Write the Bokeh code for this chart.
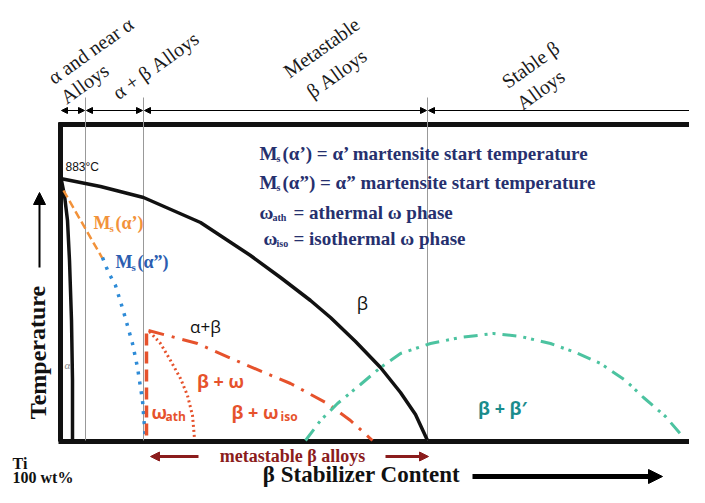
from bokeh.plotting import figure
from bokeh.models import Range1d, Arrow, NormalHead
from bokeh.core.properties import value
from bokeh.embed import file_html
from bokeh.resources import INLINE

# ---- data (schematic coordinates) ----
section_edges = [60, 85, 143, 427, 705]
section_labels = ["α and near α", "Alloys", "α + β Alloys", "Metastable", "β Alloys", "Stable β", "Alloys"]
section_label_x = [90, 84, 155, 321, 336, 530, 540]
section_label_y = [50, 83, 65, 47, 73, 64, 89]

beta_transus_x = [60, 100, 143, 200, 250, 280, 310, 330, 355, 380, 400, 415, 427]
beta_transus_y = [178, 186, 197, 222, 255, 277, 300, 317, 341, 367, 392, 414, 440]

alpha_bound_x = [61, 64, 67, 69, 71, 72, 72]
alpha_bound_y = [180, 195, 220, 260, 320, 380, 440]

ms_a1_x = [63, 102]
ms_a1_y = [190, 258]

ms_a2_x = [102, 108, 115, 123, 132, 137, 142, 145]
ms_a2_y = [257, 272, 285, 311, 343, 367, 400, 440]

w_ath_edge_x = [146, 146]
w_ath_edge_y = [333, 440]

w_ath_x = [149, 160, 170, 180, 187, 192, 194]
w_ath_y = [331, 343, 360, 378, 395, 415, 438]

w_iso_x = [148, 197, 240, 290, 327, 350, 372]
w_iso_y = [330, 343, 362, 383, 403, 420, 440]

misc_x = [305, 320, 337, 360, 380, 400, 430, 460, 493, 520, 550, 575, 600, 625, 643, 665, 683]
misc_y = [440, 420, 403, 384, 367, 353, 343, 337, 333, 336, 343, 352, 363, 380, 397, 416, 437]

NAVY = "#26306E"
ORANGE = "#F2923A"
BLUE = "#2E8BD7"
BLUE_T = "#2C5DB0"
RED = "#E6522C"
TEAL = "#4CC3A0"
TEAL_T = "#1A8C8C"
DRED = "#8B1C1C"
SERIF = value("Liberation Serif")
SANS = value("Liberation Sans")
OPEN = value("Open Sans")

p = figure(width=689, height=487, x_range=Range1d(0, 689), y_range=Range1d(487, 0),
           toolbar_location=None, output_backend="svg", min_border=0,
           x_axis_type=None, y_axis_type=None)
p.grid.visible = False
p.outline_line_color = None

# frame
p.line([58, 705], [124, 124], line_color="#111111", line_width=5)
p.line([60, 60], [122, 441], line_color="#111111", line_width=5)
p.line([58, 705], [441, 441], line_color="#111111", line_width=5)

# section separators
for xe in section_edges[1:4]:
    p.line([xe, xe], [97, 440], line_color="#999999", line_width=1)

# double arrows above
for a, b in zip(section_edges[:-1], section_edges[1:]):
    p.add_layout(Arrow(x_start=a + 1, y_start=110, x_end=b - 1, y_end=110, line_width=1,
                       start=NormalHead(size=6, fill_color="black", line_color="black"),
                       end=NormalHead(size=6, fill_color="black", line_color="black")))

p.text(section_label_x, section_label_y, text=section_labels, angle=0.62,
       text_align="center", text_baseline="middle", text_font=SERIF,
       text_font_size="20px", text_color="#1a1a1a")

# curves
p.line(beta_transus_x, beta_transus_y, line_color="#111111", line_width=3.5)
p.line(alpha_bound_x, alpha_bound_y, line_color="#111111", line_width=3.5)
p.line(ms_a1_x, ms_a1_y, line_color=ORANGE, line_width=2.5, line_dash="8 4")
p.line(ms_a2_x, ms_a2_y, line_color=BLUE, line_width=3.5, line_dash="3 7")
p.line(w_ath_edge_x, w_ath_edge_y, line_color=RED, line_width=3.5, line_dash="12 6")
p.line(w_ath_x, w_ath_y, line_color=RED, line_width=3, line_dash="2 3")
p.line(w_iso_x, w_iso_y, line_color=RED, line_width=3, line_dash="16 8 3 8")
p.line(misc_x, misc_y, line_color=TEAL, line_width=3, line_dash="14 7 3 5 3 7")

# phase labels
p.text([65], [166], text=["883°C"], text_font=SANS, text_font_size="12px",
       text_baseline="middle", text_color="#111111")
p.text([205], [326], text=["α+β"], text_font=OPEN, text_font_size="17px",
       text_align="center", text_baseline="middle", text_color="#111111")
p.text([362], [302], text=["β"], text_font=OPEN, text_font_size="18px",
       text_align="center", text_baseline="middle", text_color="#111111")
p.text([67], [364], text=["α"], text_font=SERIF, text_font_size="11px", text_font_style="italic",
       text_align="center", text_baseline="middle", text_color="#888888")
p.text([220], [380], text=["β + ω"], text_font=OPEN, text_font_size="18px", text_font_style="bold",
       text_align="center", text_baseline="middle", text_color=RED)
p.text([231], [411], text=["β + ω"], text_font=OPEN, text_font_size="18px", text_font_style="bold",
       text_baseline="middle", text_color=RED)
p.text([280], [416], text=["iso"], text_font=OPEN, text_font_size="12px", text_font_style="bold",
       text_baseline="middle", text_color=RED)
p.text([151], [411], text=["ω"], text_font=OPEN, text_font_size="18px", text_font_style="bold",
       text_baseline="middle", text_color=RED)
p.text([165], [416], text=["ath"], text_font=OPEN, text_font_size="12px", text_font_style="bold",
       text_baseline="middle", text_color=RED)
p.text([502], [407], text=["β + β′"], text_font=OPEN, text_font_size="18px", text_font_style="bold",
       text_align="center", text_baseline="middle", text_color=TEAL_T)

# Ms labels
p.text([93], [222], text=["M"], text_font=SERIF, text_font_size="18px", text_font_style="bold",
       text_baseline="middle", text_color=ORANGE)
p.text([109], [227], text=["s"], text_font=SERIF, text_font_size="11px", text_font_style="bold",
       text_baseline="middle", text_color=ORANGE)
p.text([115], [222], text=["(α’)"], text_font=SERIF, text_font_size="18px", text_font_style="bold",
       text_baseline="middle", text_color=ORANGE)
p.text([115], [261], text=["M"], text_font=SERIF, text_font_size="18px", text_font_style="bold",
       text_baseline="middle", text_color=BLUE_T)
p.text([131], [266], text=["s"], text_font=SERIF, text_font_size="11px", text_font_style="bold",
       text_baseline="middle", text_color=BLUE_T)
p.text([137], [261], text=["(α”)"], text_font=SERIF, text_font_size="18px", text_font_style="bold",
       text_baseline="middle", text_color=BLUE_T)

# legend text
leg_main = ["M", "M", "ω", "ω"]
leg_sub = ["s", "s", "ath", "iso"]
leg_rest = ["(α’) = α’ martensite start temperature", "(α”) = α” martensite start temperature",
            "= athermal ω phase", "= isothermal ω phase"]
leg_y = [153, 182, 212, 238]
leg_x = [259, 259, 259, 263]
leg_sub_x = [276, 276, 272, 276]
leg_rest_x = [282, 282, 293, 293]
p.text(leg_x, leg_y, text=leg_main, text_font=SERIF, text_font_size="19px", text_font_style="bold",
       text_baseline="middle", text_color=NAVY)
p.text(leg_sub_x, [y + 5 for y in leg_y], text=leg_sub, text_font=SERIF, text_font_size="10px",
       text_font_style="bold", text_baseline="middle", text_color=NAVY)
p.text(leg_rest_x, leg_y, text=leg_rest, text_font=SERIF, text_font_size="19px", text_font_style="bold",
       text_baseline="middle", text_color=NAVY)

# temperature axis label
p.text([37], [352], text=["Temperature"], angle=1.5708, text_font=SERIF, text_font_size="24px",
       text_font_style="bold", text_align="center", text_baseline="middle", text_color="#111111")
p.add_layout(Arrow(x_start=39, y_start=267, x_end=39, y_end=192, line_width=2,
                   end=NormalHead(size=12, fill_color="black", line_color="black")))

# bottom texts
p.text([12], [463], text=["Ti"], text_font=SERIF, text_font_size="16px", text_font_style="bold",
       text_baseline="middle", text_color="#111111")
p.text([12], [477], text=["100 wt%"], text_font=SERIF, text_font_size="16px", text_font_style="bold",
       text_baseline="middle", text_color="#111111")
p.text([292], [455], text=["metastable β alloys"], text_font=SERIF, text_font_size="18px",
       text_font_style="bold", text_align="center", text_baseline="middle", text_color=DRED)
p.add_layout(Arrow(x_start=198, y_start=456, x_end=150, y_end=456, line_width=3, line_color=DRED,
                   end=NormalHead(size=9, fill_color=DRED, line_color=DRED)))
p.add_layout(Arrow(x_start=385, y_start=456, x_end=428, y_end=456, line_width=3, line_color=DRED,
                   end=NormalHead(size=9, fill_color=DRED, line_color=DRED)))
p.text([361], [474], text=["β Stabilizer Content"], text_font=SERIF, text_font_size="23px",
       text_font_style="bold", text_align="center", text_baseline="middle", text_color="#111111")
p.add_layout(Arrow(x_start=472, y_start=476, x_end=662, y_end=476, line_width=5,
                   end=NormalHead(size=14, fill_color="black", line_color="black")))

open("out.html", "w").write(file_html(p, INLINE))
